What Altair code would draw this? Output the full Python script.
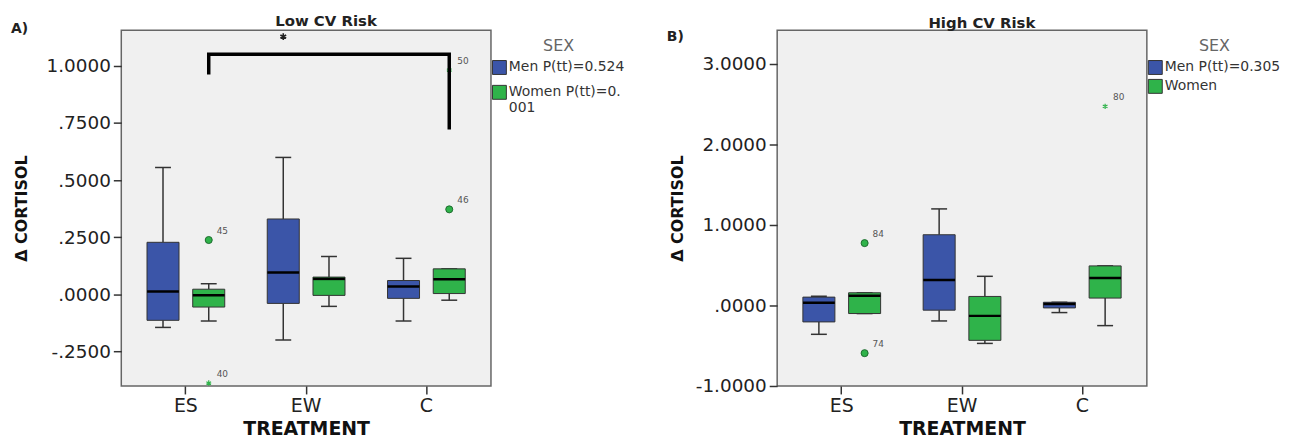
import altair as alt
import pandas as pd

treatments = ["ES", "EW", "C"]
sexes = ["Men", "Women"]
box_treat = ["ES", "ES", "EW", "EW", "C", "C"]
box_sex = ["Men", "Women", "Men", "Women", "Men", "Women"]

# Panel A: Low CV Risk
a_whisker_low = [-0.144, -0.116, -0.199, -0.052, -0.116, -0.025]
a_q1 = [-0.113, -0.055, -0.039, -0.004, -0.017, 0.004]
a_median = [0.013, -0.003, 0.096, 0.068, 0.035, 0.067]
a_q3 = [0.228, 0.023, 0.330, 0.076, 0.061, 0.112]
a_whisker_high = [0.555, 0.047, 0.599, 0.166, 0.158, 0.112]
a_legend = ["Men P(tt)=0.524", "Women P(tt)=0.001"]
a_out_treat = ["ES", "C", "ES", "C"]
a_out_sex = ["Women", "Women", "Women", "Women"]
a_out_value = [0.238, 0.372, -0.387, 0.981]
a_out_id = ["45", "46", "40", "50"]
a_out_kind = ["circle", "circle", "star", "star"]
a_bracket_treat = ["ES", "ES", "C", "C"]
a_bracket_value = [0.962, 1.05, 1.05, 0.721]
a_sig_value = 1.127
a_ticks = [-0.25, 0.0, 0.25, 0.5, 0.75, 1.0]
a_tick_labels = ["-.2500", ".0000", ".2500", ".5000", ".7500", "1.0000"]
a_domain = [-0.40, 1.155]

# Panel B: High CV Risk
b_whisker_low = [-0.358, -0.100, -0.192, -0.471, -0.088, -0.250]
b_q1 = [-0.204, -0.100, -0.058, -0.433, -0.030, 0.092]
b_median = [0.033, 0.121, 0.317, -0.129, 0.020, 0.342]
b_q3 = [0.104, 0.158, 0.879, 0.1125, 0.040, 0.492]
b_whisker_high = [0.115, 0.158, 1.200, 0.3625, 0.040, 0.492]
b_legend = ["Men P(tt)=0.305", "Women"]
b_out_treat = ["ES", "ES", "C"]
b_out_sex = ["Women", "Women", "Women"]
b_out_value = [0.775, -0.592, 2.474]
b_out_id = ["84", "74", "80"]
b_out_kind = ["circle", "circle", "star"]
b_ticks = [-1.0, 0.0, 1.0, 2.0, 3.0]
b_tick_labels = ["-1.0000", ".0000", "1.0000", "2.0000", "3.0000"]
b_domain = [-1.0, 3.42]

BLUE = "#3b55a8"
GREEN = "#2fb34a"
FONT = "DejaVu Sans"
W, H = 372, 358
STAR = "M0,-1L0,1M-0.866,-0.5L0.866,0.5M-0.866,0.5L0.866,-0.5"


def label_expr(ticks, labels):
    expr = "''"
    for t, l in reversed(list(zip(ticks, labels))):
        expr = f"abs(datum.value - ({t})) < 1e-6 ? '{l}' : " + expr
    return expr


def panel(title, title_offset, tag, tag_y, row_pad, wl, q1, med, q3, wh, legend_labels,
          out_t, out_s, out_v, out_id, out_kind, ticks, tick_labels, domain, bracket=None):
    sex_label = dict(zip(sexes, legend_labels))
    box = pd.DataFrame({
        "treatment": box_treat, "sex": box_sex,
        "wl": wl, "q1": q1, "median": med, "q3": q3, "wh": wh,
        "group": [sex_label[s] for s in box_sex],
    })
    out = pd.DataFrame({"treatment": out_t, "sex": out_s, "value": out_v,
                        "id": out_id, "kind": out_kind})

    xs = alt.Scale(domain=treatments, paddingInner=0, paddingOuter=0.037)
    xa = alt.Axis(title="TREATMENT", labelAngle=0, labelFontSize=19,
                  labelPadding=3, titleFontSize=19, titleFontWeight="bold",
                  titlePadding=4)
    xos = alt.Scale(domain=sexes, paddingInner=0.3, paddingOuter=0.465)
    ys = alt.Scale(domain=domain, nice=False, zero=False)
    ya = alt.Axis(values=ticks, labelExpr=label_expr(ticks, tick_labels),
                  labelFontSize=18.5, labelPadding=3, title="Δ CORTISOL",
                  titleFontSize=16, titleFontWeight="bold", titleX=-100,
                  titleY=H / 2, titleAngle=270, titleBaseline="middle",
                  titleAlign="center")

    def X():
        return alt.X("treatment:N", scale=xs, axis=xa, sort=treatments)

    def XO():
        return alt.XOffset("sex:N", scale=xos, sort=sexes)

    def Y(f):
        return alt.Y(f + ":Q", scale=ys, axis=ya, title="Δ CORTISOL")

    base = alt.Chart(box)
    lo = base.mark_rule(color="#333", strokeWidth=1.5).encode(
        x=X(), xOffset=XO(), y=Y("wl"), y2="q1")
    hi = base.mark_rule(color="#333", strokeWidth=1.5).encode(
        x=X(), xOffset=XO(), y=Y("q3"), y2="wh")
    cap_lo = base.mark_tick(size=16, thickness=1.5, color="#333", opacity=1).encode(
        x=X(), xOffset=XO(), y=Y("wl"))
    cap_hi = base.mark_tick(size=16, thickness=1.5, color="#333", opacity=1).encode(
        x=X(), xOffset=XO(), y=Y("wh"))
    bars = base.mark_bar(stroke="#333", strokeWidth=1, opacity=1).encode(
        x=X(), xOffset=XO(), y=Y("q1"), y2="q3",
        color=alt.Color("group:N",
                        scale=alt.Scale(domain=legend_labels, range=[BLUE, GREEN]),
                        legend=alt.Legend(
                            title="SEX", orient="none", legendX=W + 1, legendY=8,
                            titleFont=FONT, titleFontSize=16, titleFontWeight="normal",
                            titleColor="#666", titleAnchor="middle", titleAlign="center",
                            titlePadding=6,
                            labelFont=FONT, labelFontSize=14, labelColor="#333",
                            labelOffset=2, labelLimit=400,
                            labelExpr="length(datum.label) > 15 ? [substring(datum.label, 0, 14), substring(datum.label, 14)] : datum.label",
                            symbolType="square", symbolSize=196,
                            symbolStrokeColor="#333", symbolStrokeWidth=1,
                            symbolOpacity=1, rowPadding=row_pad)))
    meds = base.mark_tick(size=32, thickness=2.5, color="black", opacity=1).encode(
        x=X(), xOffset=XO(), y=Y("median"))

    ob = alt.Chart(out)
    circles = ob.transform_filter("datum.kind == 'circle'").mark_point(
        filled=True, size=50, fill=GREEN, stroke="#1d6b2e", strokeWidth=1, opacity=1
    ).encode(x=X(), xOffset=XO(), y=Y("value"))
    stars = ob.transform_filter("datum.kind == 'star'").mark_point(
        shape=STAR, filled=False, size=30, stroke=GREEN, strokeWidth=1.2, opacity=1
    ).encode(x=X(), xOffset=XO(), y=Y("value"))
    ids = ob.mark_text(align="left", baseline="middle", dx=8, dy=-9,
                       fontSize=9, font=FONT, color="#555").encode(
        x=X(), xOffset=XO(), y=Y("value"), text="id:N")

    tagdf = pd.DataFrame({"t": [tag]})
    tagm = alt.Chart(tagdf).mark_text(align="left", baseline="alphabetic",
                                      fontSize=14, fontWeight="bold", font=FONT,
                                      color="#222").encode(
        x=alt.value(-111), y=alt.value(tag_y), text="t:N")

    layers = [lo, hi, cap_lo, cap_hi, bars, meds, circles, stars, ids, tagm]

    if bracket is not None:
        bt, bv, sig = bracket
        bdf = pd.DataFrame({"treatment": bt, "sex": ["Women"] * len(bt),
                            "value": bv, "order": list(range(len(bt)))})
        line = alt.Chart(bdf).mark_line(color="black", strokeWidth=3.5,
                                        strokeJoin="miter", strokeCap="butt").encode(
            x=X(), xOffset=XO(), y=Y("value"), order="order:Q")
        sdf = pd.DataFrame({"treatment": ["EW"], "sex": ["Men"], "value": [sig]})
        sigm = alt.Chart(sdf).mark_point(shape=STAR, filled=False, size=45,
                                         stroke="#222", strokeWidth=1.6,
                                         opacity=1).encode(
            x=X(), xOffset=XO(), y=Y("value"))
        layers += [line, sigm]

    return alt.layer(*layers).properties(
        width=W, height=H,
        title=alt.TitleParams(title, fontSize=15, fontWeight="bold", font=FONT,
                              dx=20, offset=title_offset, anchor="middle", color="#222"))


pa = panel("Low CV Risk", -7, "A)", 3, 6, a_whisker_low, a_q1, a_median, a_q3,
           a_whisker_high, a_legend, a_out_treat, a_out_sex, a_out_value, a_out_id,
           a_out_kind, a_ticks, a_tick_labels, a_domain,
           bracket=(a_bracket_treat, a_bracket_value, a_sig_value))
pb = panel("High CV Risk", -1, "B)", 11, 0, b_whisker_low, b_q1, b_median, b_q3,
           b_whisker_high, b_legend, b_out_treat, b_out_sex, b_out_value, b_out_id,
           b_out_kind, b_ticks, b_tick_labels, b_domain)

chart = alt.hconcat(pa, pb, spacing=40).resolve_scale(
    y="independent", color="independent"
).resolve_legend(color="independent").properties(
    padding={"left": 2, "top": 4, "right": 0, "bottom": 0}
).configure_view(
    fill="#f0f0f0", stroke="#666", strokeWidth=1.5
).configure_axis(
    labelFont=FONT, titleFont=FONT, labelColor="#222", titleColor="#111",
    tickColor="#333", tickSize=8, tickWidth=1.5, domain=False, grid=False
)

chart.save("out.html", embed_options={"renderer": "svg", "actions": False})
